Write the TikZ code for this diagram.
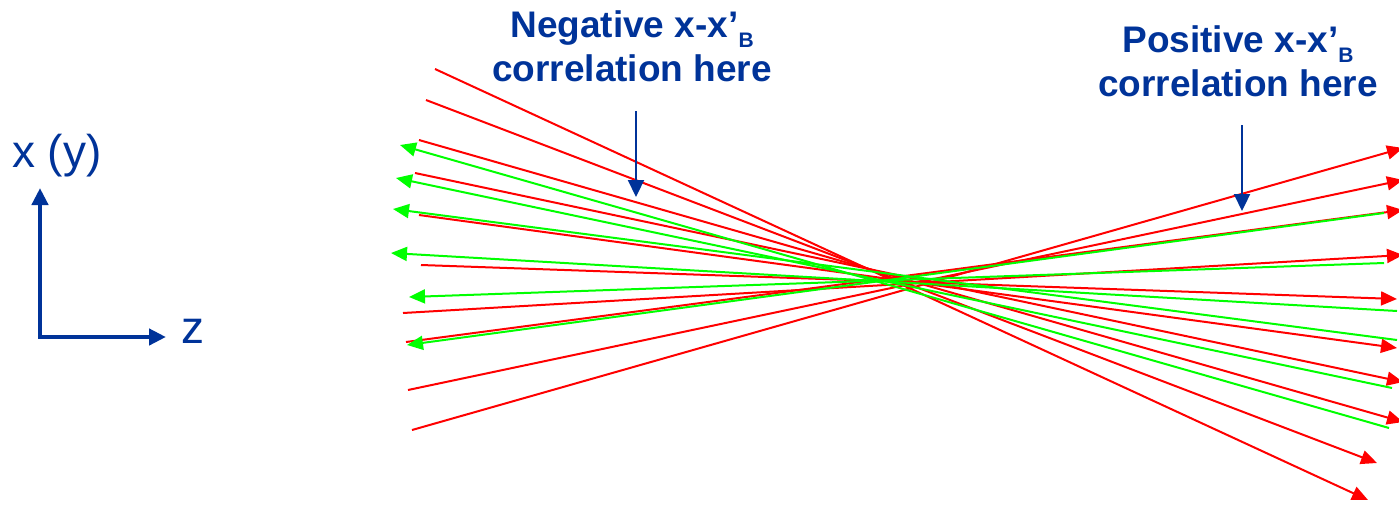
\documentclass[tikz,border=0pt]{standalone}
\usepackage{fontspec}
\setmainfont{Liberation Sans}
\usetikzlibrary{arrows.meta}
\definecolor{lblue}{RGB}{0,51,153}
\begin{document}
\begin{tikzpicture}[x=1pt,y=-1pt,
  ray/.style={line width=2pt, -{Triangle[length=16pt,width=14pt]}},
  redray/.style={ray, draw=red},
  greenray/.style={ray, draw=green},
  pointer/.style={draw=lblue, line width=2.2pt, -{Triangle[length=17pt,width=16pt]}},
  axis/.style={draw=lblue, line width=4.5pt, {Triangle[length=17pt,width=16pt]}-{Triangle[length=17pt,width=16pt]}},
  lbl/.style={text=lblue, font=\bfseries\fontsize{37}{44}\selectfont, align=center, inner sep=0pt},
  axlbl/.style={text=lblue, font=\fontsize{46}{50}\selectfont, inner sep=0pt}]
\useasboundingbox (0,0) rectangle (1399,504);

% axes
\coordinate (ytip) at (40,188);
\coordinate (corner) at (40,337);
\coordinate (ztip) at (166,337);
\draw[axis] (ytip) -- (corner) -- (ztip);
\node[axlbl, anchor=base west] (xlab) at (12,167) {x (y)};
\node[axlbl, anchor=base west] (zlab) at (181,343) {z};

% red rays (left -> right)
\foreach \n/\xa/\ya/\xb/\yb in {
  1/435/69/1368/500, 2/426/100/1377/463, 3/419/140/1403/422, 4/415/173/1403/382,
  5/419/215/1397/348, 6/421/265/1397/299, 7/403/313/1403/255, 8/406/342/1403/210,
  9/408/390/1403/180, 10/412/430/1403/148}{
  \coordinate (rs\n) at (\xa,\ya);
  \coordinate (re\n) at (\xb,\yb);
  \draw[redray] (rs\n) -- (re\n);
}
% green rays (right -> left)
\foreach \n/\xa/\ya/\xb/\yb in {
  1/1389/428/400/145, 2/1392/388/396/178, 3/1397/340/393/209,
  4/1397/311/391/253, 5/1384/263/409/297, 6/1384/213/407/345}{
  \coordinate (gs\n) at (\xa,\ya);
  \coordinate (ge\n) at (\xb,\yb);
  \draw[greenray] (gs\n) -- (ge\n);
}

% labels (base anchor = baseline of the last line)
\node[lbl, anchor=base] (neg) at (632,81) {Negative x-x’\raisebox{-10pt}{\fontsize{21}{21}\selectfont B}\\correlation here};
\node[lbl, anchor=base] (pos) at (1238,96) {Positive x-x’\raisebox{-10pt}{\fontsize{21}{21}\selectfont B}\\correlation here};
\coordinate (negtail) at (636,111);
\coordinate (neghead) at (636,197);
\coordinate (postail) at (1242,125);
\coordinate (poshead) at (1242,211);
\draw[pointer] (negtail) -- (neghead);
\draw[pointer] (postail) -- (poshead);
\end{tikzpicture}
\end{document}
